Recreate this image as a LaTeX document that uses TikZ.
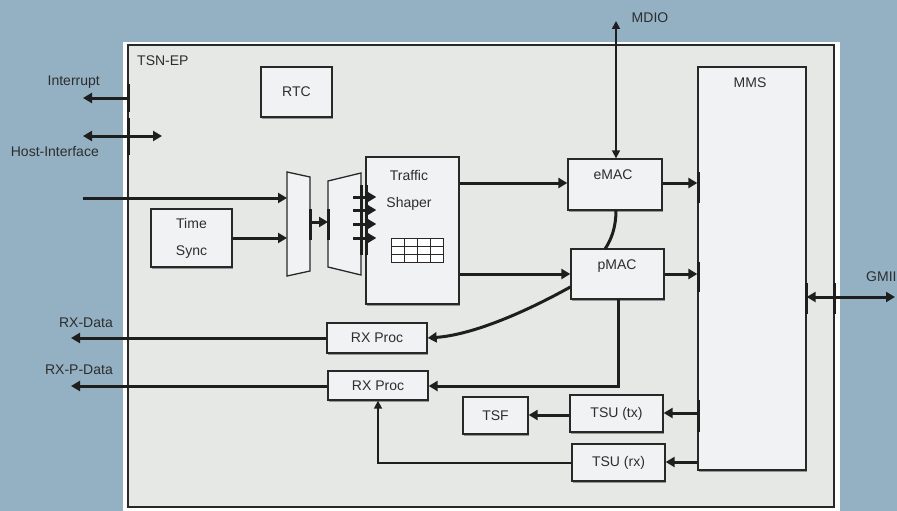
\documentclass[tikz,border=0pt]{standalone}
\usepackage{fontspec}
\setmainfont{Liberation Sans}
\usetikzlibrary{arrows.meta,shadows}
\definecolor{bgblue}{RGB}{147,177,195}
\definecolor{framefill}{RGB}{230,232,230}
\definecolor{boxfill}{RGB}{241,242,244}
\definecolor{bordcol}{RGB}{40,40,40}
\definecolor{txtcol}{RGB}{45,45,45}
\definecolor{arrcol}{RGB}{30,30,30}
\begin{document}
\begin{tikzpicture}[x=1pt,y=-1pt,
  txt/.style={font=\fontsize{14}{16}\selectfont, text=txtcol, inner sep=0pt},
  blk/.style={draw=bordcol, line width=1.3pt, fill=boxfill, inner sep=0pt,
    font=\fontsize{14}{16}\selectfont, text=txtcol,
    drop shadow={shadow xshift=1.2pt, shadow yshift=-1.6pt, opacity=0.35, fill=black}},
  thk/.style={line width=3pt, draw=arrcol},
  thn/.style={line width=1.6pt, draw=arrcol},
  tipk/.style={-{Triangle[length=9pt,width=10pt]}},
  tipkk/.style={{Triangle[length=9pt,width=10pt]}-{Triangle[length=9pt,width=10pt]}},
  tipn/.style={-{Triangle[length=8pt,width=8pt]}},
  tipnn/.style={{Triangle[length=8pt,width=8pt]}-{Triangle[length=8pt,width=8pt]}},
  port/.style={line width=3pt, draw=arrcol},
  brick/.style={draw=bordcol, line width=1pt, fill=white}
]
\useasboundingbox (0,0) rectangle (897,511);
\fill[bgblue] (0,0) rectangle (897,511);
% frame
\fill[white] (123,42) rectangle (840,511);
\filldraw[fill=framefill, draw=bordcol, line width=1.3pt] (128,45) rectangle (834,507);
\node[txt, anchor=west] (tsnep) at (137,61) {TSN-EP};

% boxes
\node[blk, minimum width=71pt, minimum height=50pt] (rtc) at (296.5,92) {RTC};
\node[blk, minimum width=81pt, minimum height=58pt] (tsync) at (191.5,238) {};
\node[txt] (tsyncA) at (191.5,223) {Time};
\node[txt] (tsyncB) at (191.5,252) {Sync};
\node[blk, minimum width=93pt, minimum height=147pt] (shaper) at (412.5,230.5) {};
\node[txt] (shaperA) at (409,175) {Traffic};
\node[txt] (shaperB) at (409,204) {Shaper};
\node[blk, minimum width=94pt, minimum height=51pt] (emac) at (615,184.5) {};
\node[txt] (emacl) at (613,175) {eMAC};
\node[blk, minimum width=93pt, minimum height=50pt] (pmac) at (617.5,274) {};
\node[txt] (pmacl) at (617,266) {pMAC};
\node[blk, minimum width=108pt, minimum height=403pt] (mms) at (752,268.5) {};
\node[txt] (mmsl) at (750,83) {MMS};
\node[blk, minimum width=100pt, minimum height=30pt] (rx1) at (377,338) {RX Proc};
\node[blk, minimum width=100pt, minimum height=29pt] (rx2) at (378,385.5) {RX Proc};
\node[blk, minimum width=65pt, minimum height=37pt] (tsf) at (495.5,415.5) {TSF};
\node[blk, minimum width=93pt, minimum height=37pt] (tsutx) at (616.5,413.5) {TSU (tx)};
\node[blk, minimum width=93pt, minimum height=37pt] (tsurx) at (618.5,462.5) {TSU (rx)};

% brick icon
\begin{scope}[drop shadow={shadow xshift=1pt, shadow yshift=-1.5pt, opacity=0.35, fill=black}]
\foreach \r in {0,1,2}{
  \foreach \c in {0,1,2,3}{
    \draw[brick] ({391+13*\c},{238+8*\r}) rectangle ({404+13*\c},{246+8*\r});
  }
}
\end{scope}

% muxes
\filldraw[fill=boxfill, draw=bordcol, line width=1.3pt] (287,172) -- (310,177) -- (310,271) -- (287,276) -- cycle;
\filldraw[fill=boxfill, draw=bordcol, line width=1.3pt] (328,181) -- (361,173) -- (361,275) -- (328,267) -- cycle;
\coordinate (m1a) at (287,198);
\coordinate (m1b) at (287,238);
\coordinate (m1o) at (310,222);
\coordinate (m2i) at (328,222);

% external labels
\node[txt, anchor=east] (intl) at (100,82) {Interrupt};
\node[txt, anchor=east] (hostl) at (99,152) {Host-Interface};
\node[txt] (mdiol) at (650,18) {MDIO};
\node[txt, anchor=west] (gmiil) at (866,277) {GMII};
\node[txt, anchor=east] (rxdl) at (113,323) {RX-Data};
\node[txt, anchor=east] (rxpl) at (113,370) {RX-P-Data};

\coordinate (intE) at (83,98);
\coordinate (intS) at (128,98);
\coordinate (hostA) at (83,136);
\coordinate (hostB) at (162,136);
\coordinate (inS) at (83,198);
\coordinate (mdioT) at (616,21);
\coordinate (gmiiE) at (895,297);
\coordinate (rxdE) at (71,338);
\coordinate (rxpE) at (71,386);

% connectors
\draw[thk, tipk] (intS) -- (intE);
\draw[thk, tipkk] (hostA) -- (hostB);
\draw[thk, tipk] (inS) -- (m1a);
\draw[thk, tipk] (tsync.east |- m1b) -- (m1b);
\draw[thk, tipk] (m1o) -- (m2i);
\foreach \yy in {197,210,224,238}{
  \draw[thk, tipk] (353,\yy) -- (shaper.west |- 0,\yy) -- ++(11,0);
}
\draw[thk, tipk] (shaper.east |- 0,183) -- (emac.west |- 0,183);
\draw[thk, tipk] (shaper.east |- 0,274) -- (pmac.west |- 0,274);
\draw[thn, tipnn] (mdioT) -- (emac.north -| mdioT);
\draw[thk, tipk] (emac.east |- 0,183) -- (mms.west |- 0,183);
\draw[thk, tipk] (pmac.east |- 0,274) -- (mms.west |- 0,274);
\draw[thk] (616,210) .. controls (616,228) and (611,240) .. (605,249);
\draw[thk, tipk] (pmac.west |- 0,287) .. controls (520,315) and (470,335) .. (rx1.east);
\draw[thk, tipk] (rx1.west) -- (rxdE);
\draw[thk, tipk] (618,299) -- (618,386) -- (rx2.east |- 0,386);
\draw[thk, tipk] (rx2.west |- 0,386) -- (rxpE);
\draw[thn, tipn] (tsurx.west |- 0,463) -- (378,463) -- (rx2.south -| 378,0);
\draw[thk, tipk] (tsutx.west |- 0,415) -- (tsf.east |- 0,415);
\draw[thk, tipk] (mms.west |- 0,413) -- (tsutx.east |- 0,413);
\draw[thk, tipk] (mms.west |- 0,462) -- (tsurx.east |- 0,462);
\draw[thk, tipkk] (mms.east |- 0,297) -- (gmiiE);

% port marks
\draw[port] (128,84) -- (128,112);
\draw[port] (128,118) -- (128,155);
\draw[port] (806,283) -- (806,314);
\draw[port] (834,283) -- (834,314);
\draw[port] (698,172) -- (698,203);
\draw[port] (698,262) -- (698,292);
\draw[port] (698,400) -- (698,432);
\draw[port] (310,209) -- (310,240);
\draw[port] (328,209) -- (328,240);
\draw[port] (361,185) -- (361,255);
\draw[port] (366,185) -- (366,255);
\end{tikzpicture}
\end{document}
